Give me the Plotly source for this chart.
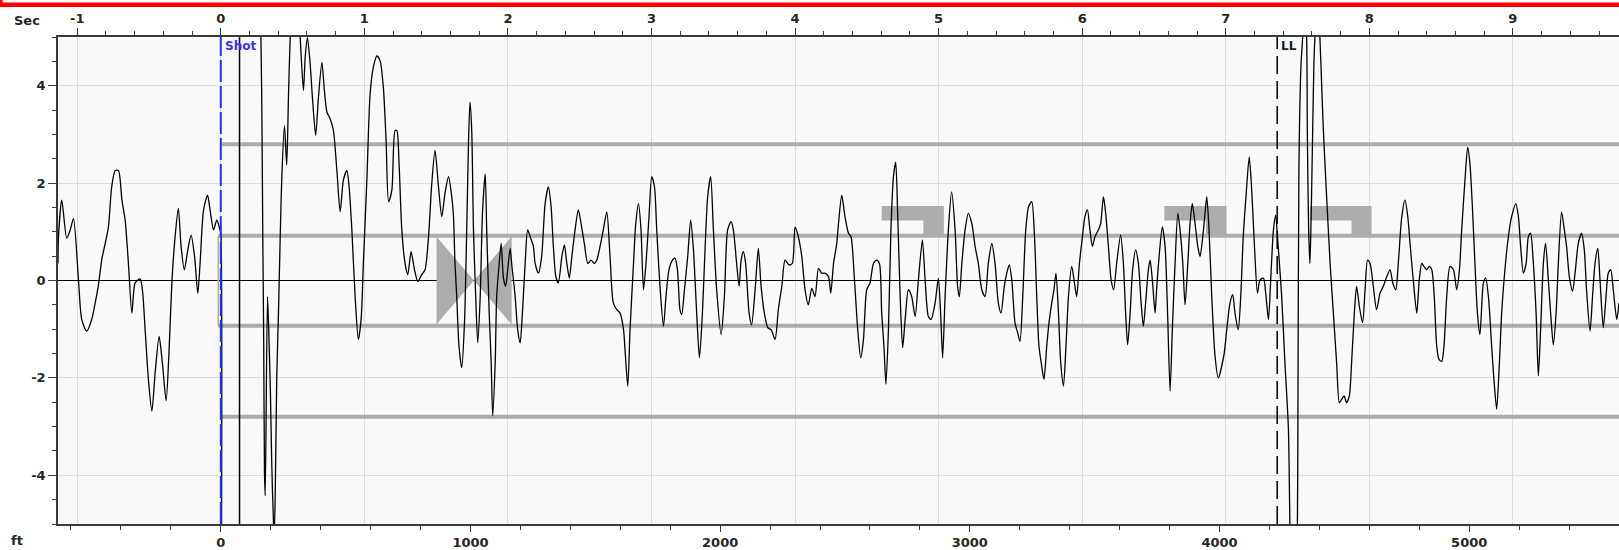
import plotly.graph_objects as go

# ---------------- data ----------------
FT_PER_SEC = 575.0
FT_RANGE = [-652, 5600]
Y_RANGE = [-5, 5]

# waveform (distance in ft, amplitude); None = gap where the trace leaves the scale
FT = [-652, -650, -637, -617, -603, -590, -570, -557, -537, -517, -503, -490, -477, -463, -450,
      -437, -423, -410, -396, -383, -370, -356, -343, -323, -314, -303, -290, -276, -263, -247,
      -234, -219, -207, -196, -183, -170, -159, -146, -132, -119, -105, -92, -83, -69, -53,
      -43, -29, -16, -3, 0, 2, None,
      158, 164, 168, 172, 175, 178, 187, 192, 199, 204, 211, 214, 218, 224, 231, 238, 244, 255,
      264, 271, 278, 287, 308, 318, 331, 338, 347, 358, 367, 380, 391, 405, 415, 425, 438, 451,
      465, 478, 491, 505, 514, 525, 538, 551, 562, 571, 585, 598, 611, 625, 638, 651, 662, 672,
      685, 698, 705, 714, 725, 738, 749, 762, 776, 789, 805, 818, 832, 845, 858, 872, 885,
      898, 912, 925, 932, 938, 945, 954, 965, 976, 985, 992, 998, 1005, 1012, 1021, 1029, 1039,
      1048, 1059, 1065, 1075, 1083, 1089, 1099, 1105, 1115, 1123, 1132, 1141, 1149, 1159, 1165,
      1179, 1189, 1199, 1208, 1219, 1229, 1239, 1252, 1259, 1272, 1285, 1299, 1312, 1323, 1332,
      1342, 1352, 1366, 1376, 1386, 1396, 1406, 1419, 1432, 1443, 1456, 1470, 1483, 1496, 1506,
      1519, 1532, 1546, 1559, 1572, 1586, 1599, 1613, 1619, 1630, 1639, 1653, 1662, 1673, 1683,
      1693, 1703, 1715, 1726, 1737, 1746, 1759, 1773, 1783, 1795, 1809, 1819, 1829, 1839, 1846,
      1857, 1870, 1882, 1893, 1906, 1917, 1929, 1940, 1950, 1962, 1973, 1986, 2004, 2017, 2030,
      2044, 2053, 2066, 2076, 2084, 2093, 2102, 2116, 2126, 2140, 2153, 2164, 2177, 2191, 2204,
      2220, 2233, 2247, 2260, 2276, 2289, 2300, 2313, 2327, 2340, 2353, 2367, 2380, 2394, 2407,
      2420, 2434, 2443, 2454, 2467,
      2474, 2487, 2500, 2514, 2524, 2538, 2551, 2563, 2574, 2587, 2600, 2614, 2627, 2638, 2647,
      2656, 2664, 2674, 2684, 2694, 2703, 2711, 2721, 2731, 2741, 2754, 2767, 2781, 2794, 2810,
      2821, 2834, 2845, 2861, 2874, 2883, 2891, 2901, 2914, 2927, 2941, 2951, 2958, 2968, 2981,
      2994, 3008, 3021, 3034, 3048, 3061, 3074, 3088, 3101, 3114, 3125, 3138, 3148, 3158, 3168,
      3181, 3192, 3201, 3212, 3224, 3235, 3248, 3259, 3268, 3277, 3288, 3297, 3308, 3317, 3328,
      3337, 3345, 3355, 3364, 3375, 3385, 3395, 3408, 3419, 3428, 3439, 3451, 3461, 3471, 3481,
      3491, 3501, 3515, 3524, 3535, 3544, 3555, 3566, 3576, 3588, 3604, 3615, 3624, 3632, 3642,
      3652, 3664, 3675, 3686, 3695, 3704, 3715, 3722, 3731, 3742, 3748, 3758, 3771, 3782, 3792,
      3802, 3811, 3822, 3833, 3842, 3853, 3862, 3873, 3882, 3891, 3902, 3913, 3922, 3933, 3942,
      3949, 3958, 3969, 3982, 3995,
      4018, 4029, 4042, 4053, 4062, 4075, 4085, 4095, 4106, 4119, 4129, 4140, 4152, 4162, 4176,
      4185, 4196, 4205, 4216, 4225, 4232, 4238, 4249, 4262, 4276, 4282, 4289, 4306, 4312, 4314,
      4318, 4326, 4333, 4342, 4349, 4352, 4357, 4362, 4366, 4372, 4378, 4382, 4392, 4402, 4409,
      4416, 4429, 4443, 4456, 4469, 4480, 4489, 4499, 4509, 4520, 4529, 4540, 4549, 4560, 4573,
      4583, 4593, 4603, 4616, 4629, 4643, 4656, 4670, 4683, 4694, 4706, 4716, 4730, 4743, 4754,
      4763, 4776, 4790, 4800, 4810, 4819, 4830, 4840, 4850, 4860, 4870, 4879, 4890, 4899, 4910,
      4923, 4937, 4950, 4961, 4970, 4983, 4994, 5003, 5014, 5023, 5033, 5043, 5057, 5066, 5077,
      5090, 5099, 5110, 5121, 5130, 5143, 5157, 5170, 5187, 5197, 5206, 5217, 5228, 5237, 5246,
      5257, 5268, 5277, 5286, 5297, 5306, 5317, 5328, 5337, 5348, 5357, 5370, 5381, 5390, 5401,
      5414, 5424, 5437, 5450, 5461, 5470, 5484, 5494, 5504, 5515, 5524, 5537, 5548, 5557, 5567,
      5577, 5591, 5600]

AMP = [0.35, 0.90, 1.65, 0.87, 1.04, 1.27, 0.01, -0.80, -1.04, -0.80, -0.46, -0.09, 0.42, 0.76, 1.10,
       1.92, 2.26, 2.26, 1.65, 1.24, 0.35, -0.67, -0.05, 0.03, -0.19, -1.01, -2.03, -2.68, -1.90, -1.15,
       -1.69, -2.47, -1.42, -0.05, 0.90, 1.48, 0.70, 0.22, 0.63, 0.93, 0.49, -0.26, 0.35, 1.45, 1.75,
       1.45, 1.04, 1.24, 1.04, 0.97, -7.0, None,
       6.0, 3.76, 1.04, -1.35, -3.94, -4.42, -0.33, -1.01, -2.37, -3.74, -4.96, -5.2, -4.42, -2.03, -0.67, 0.90, 2.06, 3.18,
       2.37, 3.76, 4.99, 5.8, 5.8, 4.99, 3.90, 4.58, 4.99, 4.44, 3.76, 2.98, 3.76, 4.48, 3.90, 3.46, 3.32, 3.08,
       2.26, 1.41, 2.06, 2.26, 1.92, 1.04, -0.33, -1.21, -0.80, 0.35, 2.06, 3.83, 4.38, 4.61, 4.51, 3.97, 2.88, 1.62,
       1.85, 3.08, 3.08, 2.40, 1.04, 0.35, 0.12, 0.59, 0.22, -0.02, 0.12, 0.22, 0.90, 1.99, 2.67, 1.92, 1.31,
       1.79, 2.13, 1.72, 1.31, 0.35, -0.33, -1.35, -1.79, -0.87, 1.04, 2.81, 3.66, 3.08, 1.04, -0.33, -1.28, -0.33,
       1.38, 2.19, 1.04, -0.67, -1.69, -2.78, -1.69, -0.33, 0.35, 0.76, 0.05, -0.12, 0.22, 0.66, 0.35,
       -0.33, -1.01, -1.28, -0.67, 0.35, 1.04, 0.90, 0.70, 0.35, 0.15, 0.49, 1.58, 1.92, 1.51, 0.70,
       0.08, -0.05, 0.49, 0.73, 0.35, 0.05, 0.49, 1.04, 1.45, 1.17, 0.76, 0.35, 0.42, 0.35, 0.42,
       0.70, 1.04, 1.41, 0.49, -0.46, -0.60, -0.67, -1.01, -1.42, -2.17, -1.01, 0.35, 1.17, 1.58, 1.04,
       -0.19, 0.35, 1.31, 2.13, 1.92, 1.04, -0.12, -0.94, -0.33, 0.22, 0.42, 0.46, 0.22, -0.60, -0.70,
       -0.19, 0.49, 1.24, 0.63, -0.67, -1.59, -0.67, 0.70, 1.72, 2.13, 1.04, -0.19, -1.11, -0.33, 1.04,
       1.21, 1.04, 0.35, -0.12, 0.42, 0.59, 0.35, -0.67, -0.91, -0.19, 0.66, -0.12, -0.67, -0.97, -1.01,
       -1.21, -0.60, -0.12, 0.42, 0.32, 0.35, 1.10, 0.90, 0.49, -0.19, -0.50, -0.16, -0.33, 0.25, 0.15,
       0.15, 0.08, -0.26, 0.35, 0.76,
       1.17, 1.75, 1.31, 0.97, 0.90, 0.01, -1.01, -1.59, -1.21, -0.19, -0.05, 0.35, 0.42, 0.35, -0.67,
       -1.35, -2.13, -1.01, 1.04, 2.13, 2.43, 1.38, -0.33, -1.38, -0.80, -0.19, -0.33, -0.74, 0.01, 0.83,
       0.01, -0.74, -0.80, -0.46, 0.05, -0.67, -1.59, -0.33, 1.04, 1.82, 1.04, -0.12, -0.33, 0.35, 1.04,
       1.38, 1.17, 0.70, 0.35, -0.19, -0.33, 0.35, 0.76, 0.35, -0.46, -0.67, -0.12, 0.15, 0.32, 0.01,
       -0.87, -1.08, -1.25, -0.33, 1.04, 1.51, 1.62, 0.90, -0.33, -1.35, -1.76, -2.03, -1.35, -0.87, -0.46,
       -0.19, 0.15, -0.67, -1.69, -2.17, -1.35, -0.33, 0.29, -0.05, -0.33, 0.35, 0.90, 1.31, 1.45, 1.04,
       0.70, 0.90, 1.04, 1.17, 1.72, 1.38, 0.70, 0.01, -0.19, 0.35, 0.93, 0.35, -0.67, -1.32, -0.67,
       0.22, 0.63, 0.35, -0.46, -0.94, -0.46, 0.22, 0.42, 0.01, -0.67, -0.19, 0.49, 1.10, 0.70, -0.67,
       -2.27, -1.01, 0.35, 1.38, 1.04, 0.35, -0.50, 0.35, 1.17, 1.58, 1.17, 0.70, 0.49, 0.90, 1.38,
       1.72, 1.04, -0.33, -1.55, -2.00,
       -1.52, -1.01, -0.46, -0.29, -0.67, -1.01, -0.33, 0.90, 1.72, 2.54, 1.85, 0.70, -0.26, 0.01, 0.05,
       -0.26, -0.80, 0.01, 1.04, 1.34, 0.90, 0.49, -0.33, -1.69, -3.05, -4.96, -6.0, -6.0, -4.96, -2.92,
       2.26, 4.38, 4.99, 5.8, 4.99, 2.94, 1.04, 0.35, 1.04, 2.74, 4.44, 4.99, 5.8, 4.99, 4.04,
       3.08, 1.72, 0.35, -0.67, -1.69, -2.51, -2.44, -2.37, -2.51, -2.37, -1.69, -0.67, -0.12, -0.53, -0.87,
       -0.19, 0.42, 0.35, -0.12, -0.60, -0.26, -0.12, 0.08, 0.22, -0.05, -0.19, 0.35, 1.31, 1.65, 1.31,
       0.76, 0.01, -0.67, 0.01, 0.35, 0.29, 0.22, 0.29, 0.22, -0.33, -1.35, -1.62, -1.66, -1.35, -0.33,
       0.29, 0.22, -0.19, 0.22, 1.04, 2.06, 2.74, 2.40, 1.38, 0.35, -0.67, -1.11, -0.05, 0.05, -0.33,
       -1.35, -2.03, -2.64, -1.69, -0.67, 0.22, 0.90, 1.31, 1.58, 1.31, 0.70, 0.15, 0.35, 0.90, 0.97,
       0.35, -0.67, -1.96, -1.01, 0.35, 0.76, 0.01, -0.80, -1.32, -0.67, 0.35, 1.41, 1.04, 0.70, 0.08,
       -0.22, 0.15, 0.76, 0.97, 0.63, -0.19, -1.04, -0.33, 0.35, 0.66, 0.01, -0.97, -0.33, 0.15, 0.22,
       -0.19, -0.80, -0.46]

# threshold lines: (level, start ft)
THRESH_LEVELS = [2.8, 0.92, -0.93, -2.8]
THRESH_START = [4, -10, -10, 4]

# bow-tie marker (ft) and half-height
BOWTIE_FT = [864, 1014, 1165]
BOWTIE_H = 0.9

# flag markers: left, notch, right (ft); top, band bottom, base (amplitude)
FLAG_LEFT = [2647, 3779, 4362]
FLAG_NOTCH = [2814, 3946, 4529]
FLAG_RIGHT = [2896, 4028, 4609]
FLAG_Y = [1.53, 1.23, 0.93]

SHOT_FT = 0
BLACK_FT = 75
LL_FT = 4231

SEC_TICKS = list(range(-1, 10))
FT_TICKS = [0, 1000, 2000, 3000, 4000, 5000]
Y_TICKS = [-4, -2, 0, 2, 4]

# ---------------- figure ----------------
W, H = 1619, 550
ML, MR, MT, MB = 58, 0, 37, 26
PW, PH = W - ML - MR, H - MT - MB

def px_x(X):
    return (X - ML) / PW

def px_y(Y):
    return 1 - (Y - MT) / PH

TICKFONT = dict(family="DejaVu Sans", size=13, color="#262626", weight="bold")
AXCOL = "#3a3a3a"
GRIDCOL = "#dddddd"
GRAY = "#adadad"

fig = go.Figure()

fig.add_trace(go.Scatter(x=FT, y=AMP, mode="lines",
                         line=dict(color="black", width=1.3, shape="spline", smoothing=0.7),
                         connectgaps=False, hoverinfo="skip", showlegend=False))
sec_range = [FT_RANGE[0] / FT_PER_SEC, FT_RANGE[1] / FT_PER_SEC]
fig.add_trace(go.Scatter(x=sec_range, y=[None, None], xaxis="x2", mode="lines",
                         hoverinfo="skip", showlegend=False))

shapes = []
# threshold lines
for lvl, st in zip(THRESH_LEVELS, THRESH_START):
    shapes.append(dict(type="line", xref="x", yref="y", x0=st, x1=FT_RANGE[1] + 100, y0=lvl, y1=lvl,
                       line=dict(color=GRAY, width=4), layer="between"))
shapes.append(dict(type="line", xref="x", yref="y", x0=THRESH_START[1], x1=THRESH_START[1],
                   y0=THRESH_LEVELS[2], y1=THRESH_LEVELS[1], line=dict(color=GRAY, width=1.5),
                   layer="between"))
# bow tie
l, c, r = BOWTIE_FT
bt = (f"M {l},{BOWTIE_H} L {c},0 L {l},{-BOWTIE_H} Z "
      f"M {r},{BOWTIE_H} L {c},0 L {r},{-BOWTIE_H} Z")
shapes.append(dict(type="path", xref="x", yref="y", path=bt, fillcolor=GRAY,
                   line=dict(width=0), layer="between"))
# flags
for a, n, b in zip(FLAG_LEFT, FLAG_NOTCH, FLAG_RIGHT):
    t, m, bs = FLAG_Y
    p = f"M {a},{t} L {b},{t} L {b},{bs} L {n},{bs} L {n},{m} L {a},{m} Z"
    shapes.append(dict(type="path", xref="x", yref="y", path=p, fillcolor=GRAY,
                       line=dict(width=0), layer="between"))
# vertical markers
shapes.append(dict(type="line", xref="x", yref="paper", x0=BLACK_FT, x1=BLACK_FT, y0=0, y1=1,
                   line=dict(color="black", width=1.5), layer="above"))
shapes.append(dict(type="line", xref="x", yref="paper", x0=SHOT_FT, x1=SHOT_FT, y0=0, y1=1,
                   line=dict(color="#2233ee", width=2, dash="22px,4px"), layer="above"))
shapes.append(dict(type="line", xref="x", yref="paper", x0=LL_FT, x1=LL_FT, y0=0, y1=1,
                   line=dict(color="black", width=1.5, dash="18px,7px"), layer="above"))
# red selection frame at the top
shapes.append(dict(type="rect", xref="paper", yref="paper", x0=px_x(0), x1=px_x(W + 5),
                   y0=px_y(7), y1=px_y(2.5), fillcolor="#ff0000", line=dict(width=0), layer="above"))
shapes.append(dict(type="rect", xref="paper", yref="paper", x0=px_x(0), x1=px_x(2.5),
                   y0=px_y(7), y1=px_y(0), fillcolor="#ff0000", line=dict(width=0), layer="above"))

annotations = [
    dict(text="Shot", x=SHOT_FT + 8, xref="x", y=px_y(46), yref="paper", xanchor="left",
         yanchor="middle", showarrow=False,
         font=dict(family="DejaVu Sans", size=12, color="#3333ff", weight="bold")),
    dict(text="LL", x=LL_FT + 8, xref="x", y=px_y(46), yref="paper", xanchor="left",
         yanchor="middle", showarrow=False,
         font=dict(family="DejaVu Sans", size=12, color="#1a1a2a", weight="bold")),
    dict(text="Sec", x=px_x(12), xref="paper", y=px_y(20.5), yref="paper", xanchor="left",
         yanchor="middle", showarrow=False, font=TICKFONT),
    dict(text="ft", x=px_x(9), xref="paper", y=px_y(540), yref="paper", xanchor="left",
         yanchor="middle", showarrow=False, font=TICKFONT),
]

fig.update_layout(
    width=W, height=H,
    margin=dict(l=ML, r=MR, t=MT, b=MB, pad=0),
    paper_bgcolor="white", plot_bgcolor="#f9f9f9",
    showlegend=False,
    shapes=shapes, annotations=annotations,
    xaxis=dict(range=FT_RANGE, tickmode="array", tickvals=FT_TICKS,
               ticktext=[str(v) for v in FT_TICKS], ticks="outside", ticklen=6, tickwidth=1,
               tickcolor=AXCOL, showgrid=False, zeroline=False, showline=True, linecolor=AXCOL,
               linewidth=1.5, tickfont=TICKFONT, automargin=False,
               minor=dict(dtick=200, tick0=0, ticks="outside", ticklen=4, tickcolor=AXCOL,
                          showgrid=False)),
    xaxis2=dict(range=sec_range, overlaying="x", side="top", anchor="y", tickmode="array",
                tickvals=SEC_TICKS, ticktext=[str(v) for v in SEC_TICKS],
                ticks="outside", ticklen=7, tickwidth=1, tickcolor=AXCOL,
                showgrid=True, gridcolor=GRIDCOL, gridwidth=1, zeroline=False, showline=True,
                linecolor=AXCOL, linewidth=1.5, tickfont=TICKFONT, automargin=False,
                minor=dict(dtick=0.2, tick0=0, ticks="outside", ticklen=4, tickcolor=AXCOL,
                           showgrid=False)),
    yaxis=dict(range=Y_RANGE, tickmode="array", tickvals=Y_TICKS,
               ticktext=[str(v) for v in Y_TICKS], ticks="outside", ticklen=8, tickwidth=1,
               tickcolor=AXCOL, showgrid=True, gridcolor=GRIDCOL, gridwidth=1,
               zeroline=True, zerolinecolor="black", zerolinewidth=1,
               showline=True, linecolor=AXCOL, linewidth=1.5, tickfont=TICKFONT, automargin=False,
               minor=dict(dtick=0.5, tick0=0, ticks="outside", ticklen=4, tickcolor=AXCOL,
                          showgrid=False)),
)

fig.write_html("out.html")
